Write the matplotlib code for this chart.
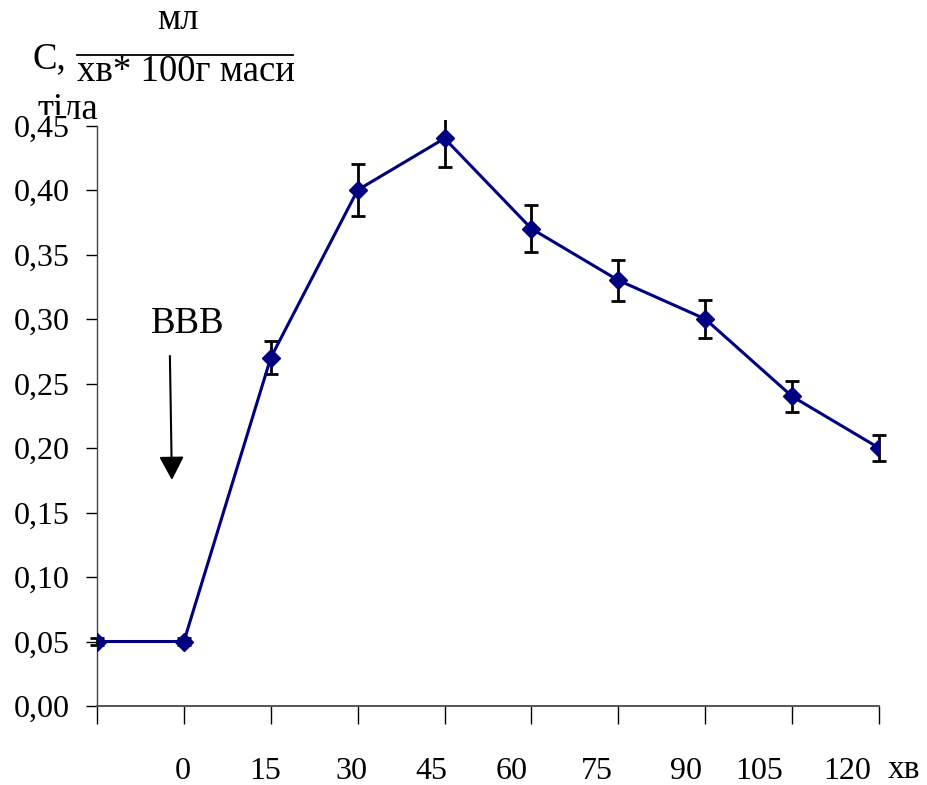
import numpy as np
import matplotlib
matplotlib.use("Agg")
import matplotlib.pyplot as plt
from matplotlib.lines import Line2D
from matplotlib.patches import Rectangle
from matplotlib.transforms import ScaledTranslation

plt.rcParams['font.family'] = ['Liberation Serif', 'DejaVu Serif']
plt.rcParams['font.size'] = 26.5

# data
time_labels = ['', '0', '15', '30', '45', '60', '75', '90', '105', '120']
clearance = [0.05, 0.05, 0.27, 0.40, 0.44, 0.37, 0.33, 0.30, 0.24, 0.20]
clearance_err = [0.003, 0.003, 0.013, 0.020, 0.022, 0.018, 0.016, 0.015, 0.012, 0.010]
y_ticks = [0.00, 0.05, 0.10, 0.15, 0.20, 0.25, 0.30, 0.35, 0.40, 0.45]

# horizontal shift of each x label (pixels), the labels drift left in the original
label_shift_px = [0, -1, -6, -6, -13, -20, -21, -19, -33, -32]

W, H = 928, 785
fig = plt.figure(figsize=(W / 100, H / 100), dpi=100)
ax = fig.add_axes([97 / W, 1 - 706 / H, (879 - 97) / W, (706 - 125.5) / H])

x = np.arange(len(clearance))

eb = ax.errorbar(x, clearance, yerr=clearance_err, fmt='none', ecolor='black',
                 elinewidth=2, capsize=5, capthick=2, zorder=2)
# bars may poke a little above the frame, caps only sideways
for col in eb.lines[2]:
    col.set_clip_path(Rectangle((-0.05, -0.05), 1.1, 1.06, transform=ax.transAxes))
for cap in eb.lines[1]:
    cap.set_clip_path(Rectangle((-0.05, -0.05), 1.1, 1.05, transform=ax.transAxes))

ax.plot(x, clearance, color='#000080', lw=2.2, marker='D', ms=9,
        markerfacecolor='#000080', markeredgecolor='#000080', zorder=3)

ax.set_xlim(0, len(clearance) - 1)
ax.set_ylim(0, 0.45)

for s in ['top', 'right']:
    ax.spines[s].set_visible(False)
ax.spines['left'].set_color('#444444')
ax.spines['left'].set_linewidth(1)
ax.spines['bottom'].set_color('#555555')
ax.spines['bottom'].set_linewidth(1.4)

ax.set_yticks(y_ticks)
ax.set_yticklabels([('%.2f' % v).replace('.', ',') for v in y_ticks])
ax.tick_params(axis='y', direction='out', length=8, width=1, pad=11.5,
               colors='black', labelsize=23)
ax.set_xticks(x)
ax.set_xticklabels(time_labels)
ax.tick_params(axis='x', direction='out', length=13, width=1, pad=24,
               colors='black', labelsize=23)

for lab, dx in zip(ax.get_xticklabels(), label_shift_px):
    lab.set_transform(lab.get_transform() + ScaledTranslation(dx / 100, 0, fig.dpi_scale_trans))

# white box under the top y label so it hides part of the unit text
ax.get_yticklabels()[-1].set_bbox(dict(facecolor='white', edgecolor='none', pad=0))

# arrow marking the injection
ax.annotate('', xy=(0.862, 0.1752), xytext=(0.839, 0.2713),
            arrowprops=dict(arrowstyle='-|>,head_length=0.72,head_width=0.38',
                            color='black', lw=1.5, mutation_scale=20,
                            shrinkA=0, shrinkB=0))
ax.text(1.046, 0.289, 'ВВВ', ha='center', va='baseline')

# y unit label (fraction)
fig.text(33 / W, 1 - 68 / H, 'С,', ha='left', va='baseline')
fig.text(178 / W, 1 - 29 / H, 'мл', ha='center', va='baseline')
fig.add_artist(Line2D([77 / W, 293 / W], [1 - 55 / H, 1 - 55 / H],
                      color='black', lw=1.3, transform=fig.transFigure))
fig.text(77 / W, 1 - 81 / H, 'хв* 100г маси', ha='left', va='baseline')
fig.text(38 / W, 1 - 119 / H, 'тіла', ha='left', va='baseline', zorder=-1)

# x unit
fig.text(904 / W, 1 - 778 / H, 'хв', ha='center', va='baseline', fontsize=24)

fig.savefig('out.png', dpi=100)
